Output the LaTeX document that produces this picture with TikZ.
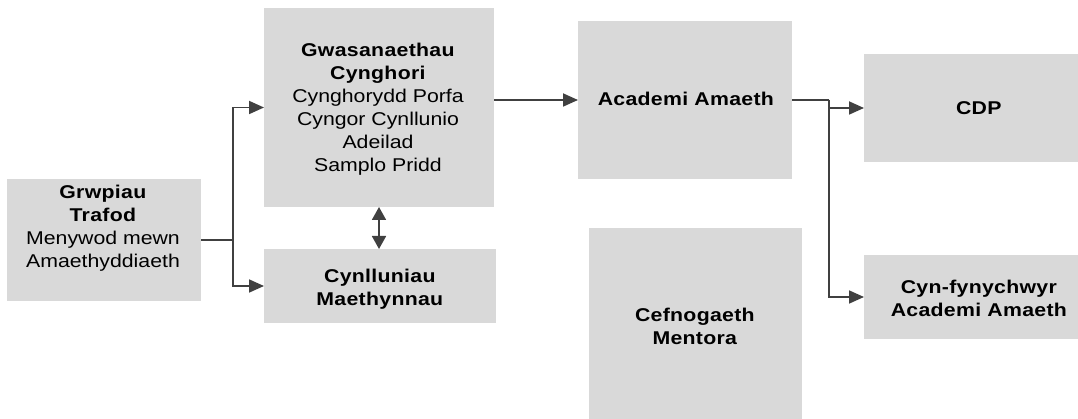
\documentclass[tikz,border=0pt]{standalone}
\usepackage{fontspec}
\setmainfont{Liberation Sans}[FakeStretch=1.15, BoldFeatures={LetterSpace=1.6}]
\usetikzlibrary{arrows.meta}
\definecolor{boxgray}{HTML}{D9D9D9}
\definecolor{linegray}{HTML}{404040}
\tikzset{
  box/.style={rectangle, fill=boxgray, inner sep=0pt, outer sep=0pt},
  txt/.style={inner sep=0pt, align=center, font=\fontsize{18.5}{23}\selectfont},
  conn/.style={draw=linegray, line width=1.8pt},
  arr/.style={conn, -{Triangle[length=15pt,width=13pt]}},
  darr/.style={conn, {Triangle[length=13pt,width=14pt]}-{Triangle[length=13pt,width=14pt]}},
}
\begin{document}
\begin{tikzpicture}[x=1pt,y=-1pt]
\useasboundingbox (0,0) rectangle (1078,419);
% boxes
\node[box, minimum width=194pt, minimum height=122pt] (grw) at (104,240) {};
\node[box, minimum width=230pt, minimum height=199pt] (gwas) at (379,107.5) {};
\node[box, minimum width=232pt, minimum height=74pt] (cynl) at (380,286) {};
\node[box, minimum width=214pt, minimum height=158pt] (acad) at (685,100) {};
\node[box, minimum width=213pt, minimum height=196pt] (ment) at (695.5,326) {};
\node[box, minimum width=230pt, minimum height=108pt] (cdp) at (979,108) {};
\node[box, minimum width=230pt, minimum height=84pt] (cynf) at (979,297) {};
% texts
\node[txt] (grwT) at (103,228) {\textbf{Grwpiau}\\\textbf{Trafod}\\Menywod mewn\\Amaethyddiaeth};
\node[txt] (gwasT) at (378,109.5)
  {\textbf{Gwasanaethau}\\\textbf{Cynghori}\\Cynghorydd Porfa\\Cyngor Cynllunio\\Adeilad\\Samplo Pridd};
\node[txt] (cynlT) at (380,289.5) {\textbf{Cynlluniau}\\\textbf{Maethynnau}};
\node[txt] (acadT) at (686,99) {\textbf{Academi Amaeth}};
\node[txt] (mentT) at (695,326) {\textbf{Cefnogaeth}\\\textbf{Mentora}};
\node[txt] (cdpT) at (979,108) {\textbf{CDP}};
\node[txt] (cynfT) at (979,298.3) {\textbf{Cyn-fynychwyr}\\\textbf{Academi Amaeth}};
% junctions
\coordinate (j1) at (233,240);
\coordinate (j2) at (829,100);
% connectors
\draw[conn] (grw.east) -- (j1);
\draw[arr] (j1) |- (gwas.west);
\draw[arr] (j1) |- (cynl.west);
\draw[arr] (acad.west -| gwas.east) -- (acad.west);
\draw[conn] (acad.east) -- (j2);
\draw[arr] (j2) |- (cdp.west);
\draw[arr] (j2) |- (cynf.west);
\draw[darr] (gwas.south) -- (gwas.south |- cynl.north);
\end{tikzpicture}
\end{document}
